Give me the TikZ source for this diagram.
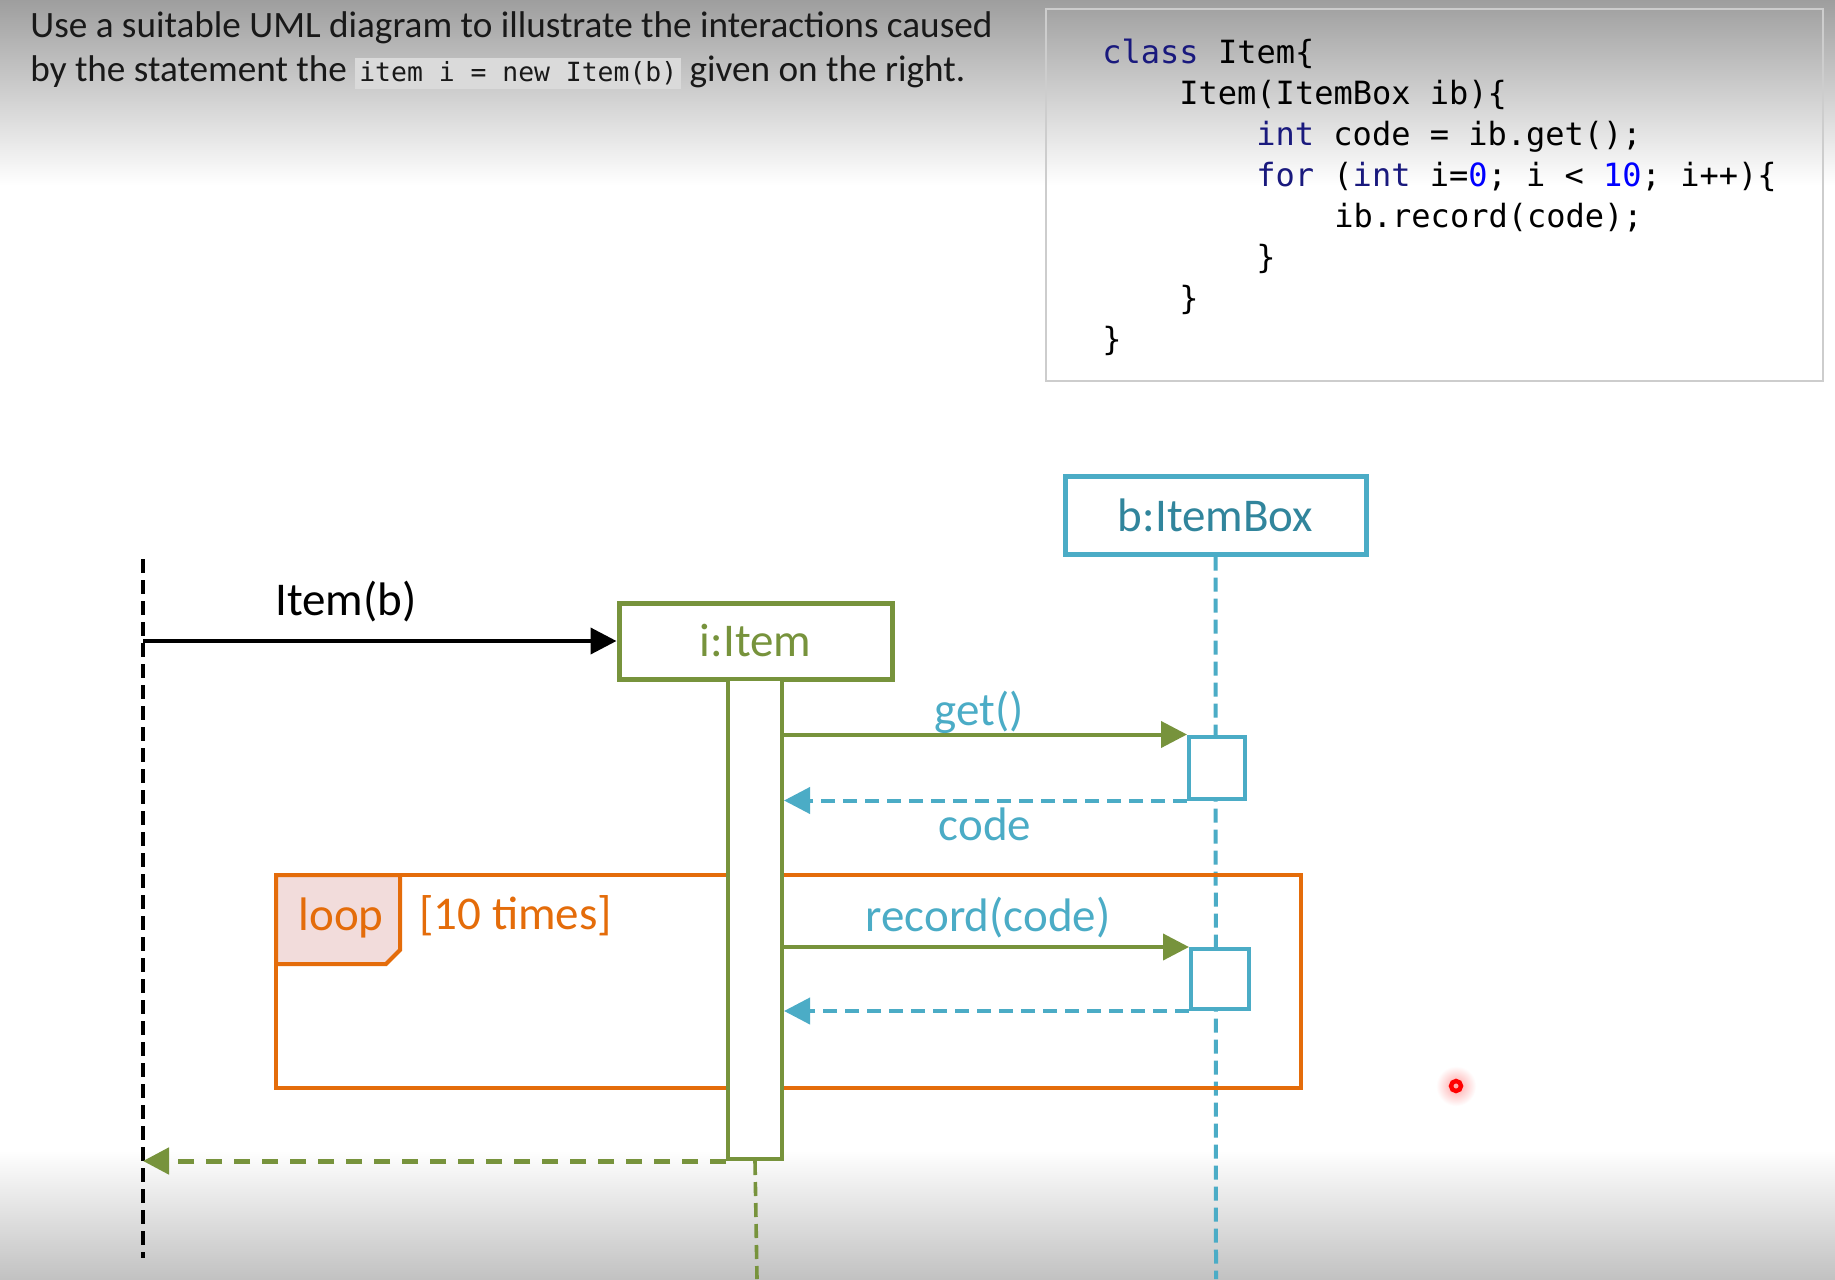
\documentclass[tikz,border=0pt]{standalone}
\usepackage{fontspec}
\setmainfont{Carlito}
\newfontfamily\codefont{DejaVu Sans Mono}
\usetikzlibrary{arrows.meta}
\definecolor{umlolive}{HTML}{77933C}
\definecolor{umlaqua}{HTML}{4BACC6}
\definecolor{umlaquatext}{HTML}{31859C}
\definecolor{umlorange}{HTML}{E46C0A}
\definecolor{umlpink}{HTML}{F2DCDB}
\definecolor{kwcol}{RGB}{25,25,125}
\definecolor{numcol}{RGB}{0,0,255}
\definecolor{codebg}{RGB}{218,218,218}
\definecolor{framegray}{RGB}{205,205,205}
\begin{document}
\begin{tikzpicture}[x=0.5pt,y=-0.5pt,
  titletext/.style={inner sep=0pt, anchor=base west, text=black!90, font=\fontsize{18.6}{22}\selectfont},
  codeline/.style={inner sep=0pt, anchor=base west, font=\codefont\fontsize{16}{19}\selectfont},
  lbl/.style={inner sep=0pt, anchor=base, font=\fontsize{23.5}{28}\selectfont},
  headbox/.style={draw, fill=white, line width=2.5pt, inner sep=0pt, font=\fontsize{23.5}{28}\selectfont},
  actbox/.style={draw, fill=white, line width=2pt, inner sep=0pt},
  tip/.style={-{Triangle[length=13pt,width=13pt]}},
  msg/.style={tip, line width=2pt},
  ret/.style={tip, line width=2pt, dash pattern=on 7pt off 4pt},
  lifeline/.style={line width=2.2pt, dash pattern=on 7pt off 3.5pt}
]
\useasboundingbox (0,0) rectangle (1835,1279);
% background
\fill[white] (0,0) rectangle (1835,1279);
\shade[top color=black!38, bottom color=white] (0,0) rectangle (1835,185);
\shade[top color=white, bottom color=black!24] (0,1150) rectangle (1835,1279);

% title
\node[titletext] (t1) at (30,37.5) {Use a suitable UML diagram to illustrate the interactions caused};
\node[titletext] (t2) at (30,82) {by the statement the {\fboxsep=2pt\colorbox{codebg}{\codefont\fontsize{13.2}{15}\selectfont item i = new Item(b)}} given on the right.};

% code box
\draw[framegray, line width=1.2pt] (1046,9) rectangle (1823,381);
\node[codeline] (c1) at (1102,63.5) {\textcolor{kwcol}{class} Item\{};
\node[codeline] (c2) at (1179,104.5) {Item(ItemBox ib)\{};
\node[codeline] (c3) at (1256,145.5) {\textcolor{kwcol}{int} code = ib.get();};
\node[codeline] (c4) at (1256,186.5) {\textcolor{kwcol}{for} (\textcolor{kwcol}{int} i=\textcolor{numcol}{0}; i < \textcolor{numcol}{10}; i++)\{};
\node[codeline] (c5) at (1334,227.5) {ib.record(code);};
\node[codeline] (c6) at (1256,268.5) {\}};
\node[codeline] (c7) at (1179,309.5) {\}};
\node[codeline] (c8) at (1102,350.5) {\}};

% actor lifeline
\coordinate (actortop) at (143,559);
\coordinate (actorbot) at (143,1258);
\draw[lifeline, black] (actortop) -- (actorbot);

% heads
\node[headbox, draw=umlolive, text=umlolive, minimum width=136.5pt, minimum height=38pt] (iitem) at (755.5,641) {i:Item};
\node[headbox, draw=umlaqua, text=umlaquatext, minimum width=150.5pt, minimum height=39pt] (bbox) at (1215.5,515) {b:ItemBox};

% lifelines
\coordinate (bend) at (1216,1279);
\coordinate (iend) at (757,1279);
\draw[lifeline, umlaqua, line width=2pt] (bbox.south) -- (bend);

% loop frame
\draw[umlorange, line width=2.2pt] (276,875) rectangle (1301,1088);
\filldraw[draw=umlorange, fill=umlpink, line width=2pt] (276,875) -- (400,875) -- (400,950) -- (386,964) -- (276,964) -- cycle;
\node[lbl, text=umlorange] (looplbl) at (341,930) {loop};
\node[lbl, text=umlorange, anchor=base west] (cond) at (419,929) {[10 times]};

% activations
\node[actbox, draw=umlolive, minimum width=27pt, minimum height=240pt] (iact) at (755,919) {};
\draw[umlolive, line width=1.8pt, dash pattern=on 7pt off 3.5pt] (iact.south) -- (iend);
\node[actbox, draw=umlaqua, minimum width=28pt, minimum height=31pt] (getact) at (1217,767.5) {};
\node[actbox, draw=umlaqua, minimum width=29pt, minimum height=30pt] (recact) at (1220,979) {};

% messages
\draw[msg, black] (iitem.west -| actortop) -- (iitem.west);
\node[lbl] (itemlbl) at (346,615) {Item(b)};

\draw[msg, umlolive] (getact.north west -| iact.east) -- (getact.north west);
\node[lbl, text=umlaqua] (getlbl) at (979,725) {get()};
\draw[ret, umlaqua] (getact.south west) -- (getact.south west -| iact.east);
\node[lbl, text=umlaqua] (codelbl) at (985,840) {code};

\draw[msg, umlolive] (recact.north west -| iact.east) -- (recact.north west);
\node[lbl, text=umlaqua] (reclbl) at (988,931) {record(code)};
\draw[ret, umlaqua] (recact.south west) -- (recact.south west -| iact.east);

\draw[tip, umlolive, line width=2.5pt, dash pattern=on 8pt off 6pt] (iact.south west) -- (iact.south west -| actortop);

% pointer dot
\shade[inner color=red!35, outer color=white] (1456,1086) circle (20);
\draw[red, line width=2.2pt] (1456,1086) circle (5);
\end{tikzpicture}
\end{document}
